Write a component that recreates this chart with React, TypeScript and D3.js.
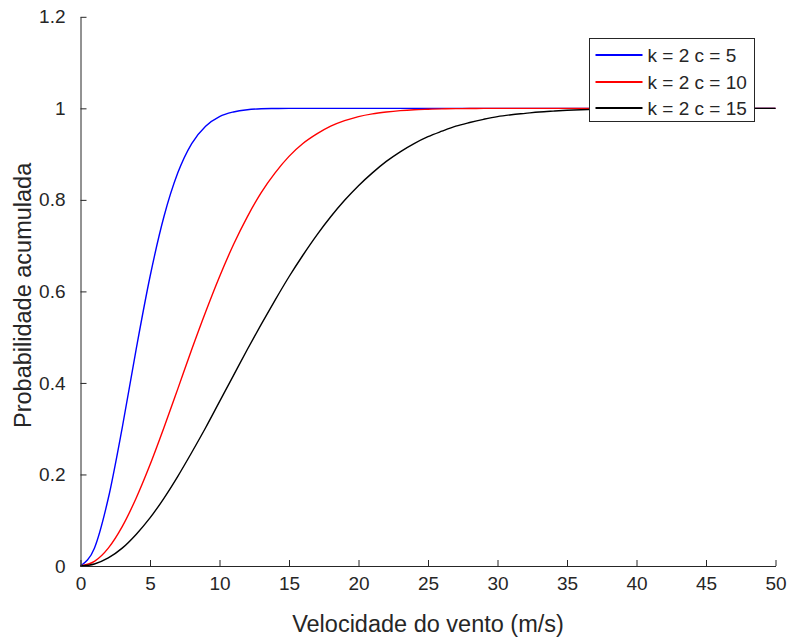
import { useEffect, useRef } from 'react';
import * as d3 from 'd3';

const W = 787, H = 639;
const M = { top: 16.8, right: 11.5, bottom: 73, left: 80.5 };

// velocidade (m/s), passos de 1
const VEL = Array.from({ length: 51 }, (_, i) => i);

// valores (probabilidade acumulada)
const C5 = [0, 0.039, 0.148, 0.302, 0.473, 0.632, 0.763, 0.859, 0.923, 0.961, 0.982, 0.992, 0.997, 0.999, 0.9996,
  1, 1, 1, 1, 1, 1, 1, 1, 1, 1, 1, 1, 1, 1, 1, 1, 1, 1, 1, 1, 1, 1, 1, 1, 1, 1, 1, 1, 1, 1, 1, 1, 1, 1, 1, 1];
const C10 = [0, 0.01, 0.039, 0.086, 0.148, 0.221, 0.302, 0.387, 0.473, 0.555, 0.632, 0.702, 0.763, 0.816, 0.859,
  0.895, 0.923, 0.944, 0.961, 0.973, 0.982, 0.988, 0.992, 0.995, 0.997, 0.998, 0.9988, 0.9993, 0.9996, 0.9998, 0.9999,
  1, 1, 1, 1, 1, 1, 1, 1, 1, 1, 1, 1, 1, 1, 1, 1, 1, 1, 1, 1];
const C15 = [0, 0.0044, 0.0176, 0.039, 0.069, 0.105, 0.148, 0.196, 0.248, 0.302, 0.359, 0.416, 0.473, 0.528, 0.581,
  0.632, 0.679, 0.723, 0.763, 0.799, 0.831, 0.859, 0.884, 0.905, 0.923, 0.938, 0.95, 0.961, 0.969, 0.976, 0.982,
  0.986, 0.989, 0.992, 0.994, 0.9957, 0.9969, 0.9977, 0.9984, 0.9988, 0.9992, 0.9994, 0.9996, 0.9997, 0.9998, 0.9999,
  1, 1, 1, 1, 1];

const SERIES = [
  { name: 'k = 2 c = 5', color: '#0000ff', vals: C5 },
  { name: 'k = 2 c = 10', color: '#ff0000', vals: C10 },
  { name: 'k = 2 c = 15', color: '#000000', vals: C15 },
];
const X_TICKS = [0, 5, 10, 15, 20, 25, 30, 35, 40, 45, 50];
const Y_TICKS = [0, 0.2, 0.4, 0.6, 0.8, 1, 1.2];

const TXT = '#262626';
const FONT = '"Liberation Sans", Arial, Helvetica, sans-serif';

export default function App() {
  const ref = useRef<SVGSVGElement>(null);
  useEffect(() => {
    const svg = d3.select(ref.current); svg.selectAll('*').remove();
    const x = d3.scaleLinear().domain([0, 50]).range([M.left, W - M.right]);
    const y = d3.scaleLinear().domain([0, 1.2]).range([H - M.bottom, M.top]);

    const line = d3.line<number>().x((_, i) => x(VEL[i])).y(d => y(d)).curve(d3.curveMonotoneX);
    SERIES.forEach(s => svg.append('path').attr('d', line(s.vals)).attr('fill', 'none')
      .attr('stroke', s.color).attr('stroke-width', 1.4));

    // eixos estilo MATLAB, ticks para dentro
    const gx = svg.append('g').attr('transform', `translate(0,${y(0)})`)
      .call(d3.axisBottom(x).tickValues(X_TICKS).tickSizeInner(-6).tickSizeOuter(0).tickPadding(17));
    const gy = svg.append('g').attr('transform', `translate(${x(0)},0)`)
      .call(d3.axisLeft(y).tickValues(Y_TICKS).tickFormat(d => String(+(+d).toFixed(1))).tickSizeInner(-6).tickSizeOuter(0).tickPadding(15));
    [gx, gy].forEach(g => {
      g.selectAll('.domain, .tick line').attr('stroke', TXT).attr('stroke-width', 1);
      g.selectAll('text').attr('fill', TXT).attr('font-size', 19).attr('font-family', FONT);
    });
    gx.selectAll('text').attr('dy', '0.35em').attr('y', 17);

    svg.append('text').attr('x', (x(0) + x(50)) / 2).attr('y', 632).attr('text-anchor', 'middle')
      .attr('fill', TXT).attr('font-size', 23.5).attr('font-family', FONT).text('Velocidade do vento (m/s)');
    svg.append('text').attr('transform', `translate(31,${(y(0) + y(1.2)) / 2 + 4}) rotate(-90)`).attr('text-anchor', 'middle')
      .attr('fill', TXT).attr('font-size', 23.5).attr('font-family', FONT).text('Probabilidade acumulada');

    // legenda
    const lg = svg.append('g').attr('transform', 'translate(589.5,38.5)');
    lg.append('rect').attr('width', 165).attr('height', 83).attr('fill', '#fff').attr('stroke', TXT).attr('stroke-width', 1);
    SERIES.forEach((s, i) => {
      const cy = Math.round(17 + i * 26.5) - 0.5;
      lg.append('line').attr('x1', 6).attr('x2', 53).attr('y1', cy).attr('y2', cy)
        .attr('stroke', s.color).attr('stroke-width', 2);
      lg.append('text').attr('x', 58).attr('y', cy).attr('dy', '0.35em').attr('fill', TXT)
        .attr('font-size', 19).attr('font-family', FONT).text(s.name);
    });
  }, []);
  return <svg ref={ref} width={W} height={H} style={{ position: 'absolute', left: 0, top: 0, background: '#fff' }} />;
}
